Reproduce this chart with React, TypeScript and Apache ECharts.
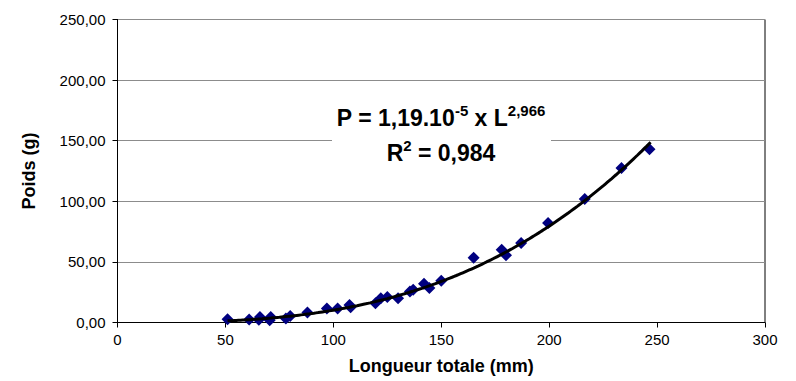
import React, { useEffect, useRef } from "react";
import * as echarts from "echarts";

// Measured points: total length (mm) and weight (g)
const lengths = [51, 61, 66, 65.5, 71, 70.5, 78, 80, 88, 97, 102, 107.5, 108, 119.5, 122, 125, 130, 135.5, 137, 142, 144.5, 150, 165, 178, 180, 187, 199.5, 216.5, 233.5, 246.5];
const weights = [2.6, 2.4, 4.5, 2.2, 4.5, 1.8, 3.4, 5.4, 8.2, 11.5, 11.5, 14.5, 12.5, 15.8, 20, 21, 20, 25.5, 27, 32, 28.5, 34.5, 53.5, 60, 55.5, 65.5, 82, 102, 127.5, 143];

// Power trend line shown on the chart: P = a * L^b
const trendA = 1.19e-5;
const trendB = 2.966;
const trendStart = 51;
const trendEnd = 247;

const xTicks = [0, 300, 50];
const yTicks = [0, 250, 50];

const xAxisTitle = "Longueur totale (mm)";
const yAxisTitle = "Poids (g)";

export default function App() {
  const ref = useRef<HTMLDivElement>(null);
  useEffect(() => {
    if (!ref.current) return;
    const chart = echarts.init(ref.current, null, { renderer: "svg" });
    const scatter = lengths.map((l, i) => [l, weights[i]]);
    const trend: number[][] = [];
    for (let l = trendStart; l <= trendEnd; l += 2) {
      trend.push([l, trendA * Math.pow(l, trendB)]);
    }
    trend.push([trendEnd, trendA * Math.pow(trendEnd, trendB)]);
    const font = "'Liberation Sans', Arial, sans-serif";
    const rich = {
      m: { fontFamily: font, fontWeight: "bold", fontSize: 23, lineHeight: 31, verticalAlign: "middle", color: "#000" },
      s: { fontFamily: font, fontWeight: "bold", fontSize: 15, lineHeight: 15, verticalAlign: "top", color: "#000" },
    };
    chart.setOption({
      animation: false,
      backgroundColor: "#ffffff",
      textStyle: { fontFamily: font },
      grid: {
        left: 117.5,
        right: 31,
        top: 19.5,
        bottom: 58.5,
        show: true,
        borderColor: "#000",
        borderWidth: 1,
        backgroundColor: "transparent",
      },
      xAxis: {
        type: "value",
        min: xTicks[0],
        max: xTicks[1],
        interval: xTicks[2],
        name: xAxisTitle,
        nameLocation: "middle",
        nameGap: 34,
        nameTextStyle: { fontFamily: font, fontWeight: "bold", fontSize: 18, color: "#000", verticalAlign: "top" },
        axisLine: { lineStyle: { color: "#000", width: 1 } },
        axisTick: { show: true, inside: false, length: 5, lineStyle: { color: "#000" } },
        axisLabel: { fontFamily: font, fontSize: 15, color: "#000", margin: 9 },
        splitLine: { show: false },
      },
      yAxis: {
        type: "value",
        min: yTicks[0],
        max: yTicks[1],
        interval: yTicks[2],
        name: yAxisTitle,
        nameLocation: "middle",
        nameGap: 80,
        nameRotate: 90,
        nameTextStyle: { fontFamily: font, fontWeight: "bold", fontSize: 18, color: "#000" },
        axisLine: { show: true, lineStyle: { color: "#000", width: 1 } },
        axisTick: { show: true, inside: false, length: 5, lineStyle: { color: "#000" } },
        axisLabel: {
          fontFamily: font,
          fontSize: 15,
          color: "#000",
          margin: 12,
          formatter: (v: number) => v.toFixed(2).replace(".", ","),
        },
        splitLine: { show: true, lineStyle: { color: "#8c8c8c", width: 1 } },
      },
      graphic: [
        {
          type: "rect",
          z: 100,
          shape: { x: 332, y: 102, width: 219, height: 66 },
          style: { fill: "#ffffff" },
        },
        {
          type: "text",
          z: 101,
          x: 441,
          y: 118,
          style: {
            text: "{m|P = 1,19.10}{s|-5}{m| x L}{s|2,966}",
            align: "center",
            verticalAlign: "middle",
            fill: "#000",
            rich,
          },
        },
        {
          type: "text",
          z: 101,
          x: 441,
          y: 153,
          style: {
            text: "{m|R}{s|2}{m| = 0,984}",
            align: "center",
            verticalAlign: "middle",
            fill: "#000",
            rich,
          },
        },
      ],
      series: [
        {
          type: "scatter",
          data: scatter,
          symbol: "diamond",
          symbolSize: [12, 12],
          itemStyle: { color: "#000080", opacity: 1 },
          z: 2,
        },
        {
          type: "line",
          data: trend,
          showSymbol: false,
          symbol: "none",
          smooth: true,
          lineStyle: { color: "#000", width: 3 },
          z: 3,
        },
      ],
    });
    return () => chart.dispose();
  }, []);
  return <div ref={ref} style={{ position: "absolute", left: 0, top: 0, width: 796, height: 381 }} />;
}
